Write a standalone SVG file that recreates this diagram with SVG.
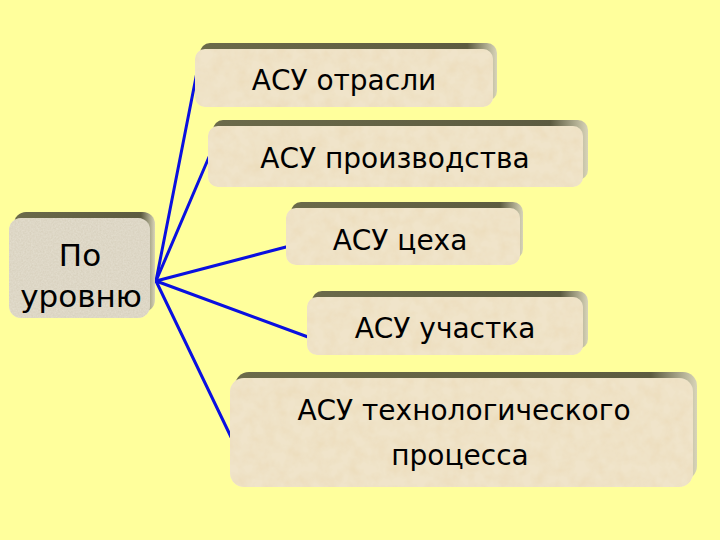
<svg xmlns="http://www.w3.org/2000/svg" width="720" height="540" viewBox="0 0 720 540">
<defs>
<linearGradient id="bev" x1="0" y1="0" x2="1" y2="0">
<stop offset="0" stop-color="#6b6a4a"/>
<stop offset="0.9" stop-color="#5c5b40"/>
<stop offset="1" stop-color="#d8d4b8"/>
</linearGradient>
<filter id="tex" x="0" y="0" width="1" height="1">
<feTurbulence type="fractalNoise" baseFrequency="0.08" numOctaves="3" seed="3" result="n"/>
<feColorMatrix in="n" type="matrix" values="0 0 0 0 0.95  0 0 0 0 0.9  0 0 0 0 0.78  0 0 0 1 -0.3" result="c"/>
<feComposite in="c" in2="SourceGraphic" operator="in" result="t"/>
<feBlend in="t" in2="SourceGraphic" mode="multiply"/>
</filter>
<filter id="tex2" x="0" y="0" width="1" height="1">
<feTurbulence type="fractalNoise" baseFrequency="0.6" numOctaves="2" seed="5" result="n"/>
<feColorMatrix in="n" type="matrix" values="0 0 0 0 0.85  0 0 0 0 0.83  0 0 0 0 0.78  0 0 0 1 -0.2" result="c"/>
<feComposite in="c" in2="SourceGraphic" operator="in" result="t"/>
<feBlend in="t" in2="SourceGraphic" mode="multiply"/>
</filter>
</defs>
<style>
.bev{fill:url(#bev)}
.face{fill:#f0e4ca;filter:url(#tex)}
.face2{fill:#e2dccc;filter:url(#tex2)}
.t{font-family:"DejaVu Sans",Verdana,sans-serif;font-size:28px;fill:#000;text-anchor:middle}
.big{font-size:31px}
.c{stroke:#0a10e0;stroke-width:3;fill:none;stroke-linecap:round}
</style>
<rect width="720" height="540" fill="#ffff9c"/>
<g id="connectors">
<line class="c" x1="156" y1="281" x2="198" y2="67"/>
<line class="c" x1="156" y1="281" x2="209" y2="157"/>
<line class="c" x1="156" y1="281" x2="286" y2="247"/>
<line class="c" x1="156" y1="281" x2="308" y2="337"/>
<line class="c" x1="156" y1="281" x2="231" y2="437"/>
</g>
<g id="root">
<rect class="bev" x="14" y="212" width="141" height="100" rx="12"/>
<rect class="face2" x="9" y="218" width="141" height="100" rx="12"/>
<text class="t big" x="80" y="266">По</text>
<text class="t big" x="81" y="307">уровню</text>
</g>
<g id="n1">
<rect class="bev" x="200" y="43" width="297" height="58" rx="10"/>
<rect class="face" x="195" y="49" width="298" height="58" rx="10"/>
<text class="t" x="344" y="90">АСУ отрасли</text>
</g>
<g id="n2">
<rect class="bev" x="213" y="120" width="375" height="60" rx="10"/>
<rect class="face" x="208" y="126" width="375" height="61" rx="10"/>
<text class="t" x="395" y="168">АСУ производства</text>
</g>
<g id="n3">
<rect class="bev" x="291" y="202" width="232" height="57" rx="10"/>
<rect class="face" x="286" y="208" width="234" height="57" rx="10"/>
<text class="t" x="400" y="250">АСУ цеха</text>
</g>
<g id="n4">
<rect class="bev" x="312" y="291" width="276" height="58" rx="10"/>
<rect class="face" x="307" y="297" width="276" height="58" rx="10"/>
<text class="t" x="445" y="338">АСУ участка</text>
</g>
<g id="n5">
<rect class="bev" x="235" y="372" width="462" height="108" rx="14"/>
<rect class="face" x="230" y="378" width="463" height="109" rx="14"/>
<text class="t" x="464" y="420">АСУ технологического</text>
<text class="t" x="460" y="465">процесса</text>
</g>
</svg>
